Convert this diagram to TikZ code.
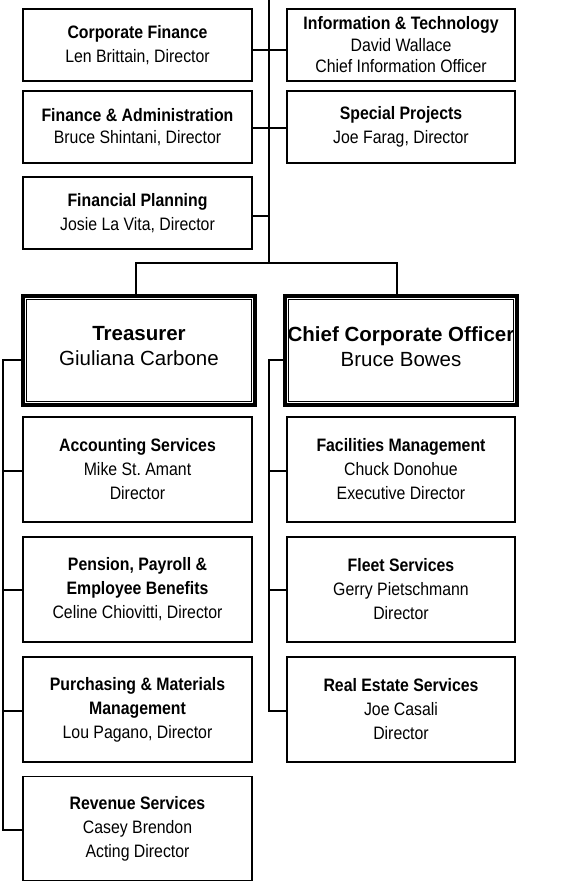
\documentclass[tikz,border=0pt]{standalone}
\usepackage{fontspec}
\setmainfont[FakeStretch=0.88]{Liberation Sans}
\newfontfamily\bigfont{Liberation Sans}
\usetikzlibrary{calc}
\frenchspacing
\tikzset{
  unitbox/.style={draw, line width=1.4pt, inner sep=0pt, align=center,
    font=\fontsize{18}{24}\selectfont},
  leftcol/.style={unitbox, minimum width=229pt},
  rightcol/.style={unitbox, minimum width=228pt},
  tight/.style={font=\fontsize{18}{21.5}\selectfont},
  headbox/.style={draw, line width=4pt, inner sep=0pt, minimum width=232pt, minimum height=109pt},
  headinner/.style={draw, line width=1.2pt},
  headtext/.style={align=center, inner sep=0pt, font=\bigfont\fontsize{20.5}{25}\selectfont},
  conn/.style={line width=1.3pt}
}
\begin{document}
\begin{tikzpicture}[x=1pt,y=-1pt]
\useasboundingbox (0,0) rectangle (571,882);
% top level boxes
\node[leftcol, minimum height=72pt] (CF) at (137.5,45) {\textbf{Corporate Finance}\\Len Brittain, Director};
\node[rightcol, minimum height=72pt, tight] (IT) at (401,45) {\textbf{Information \& Technology}\\David Wallace\\Chief Information Officer};
\node[leftcol, minimum height=72pt, tight] (FA) at (137.5,127) {\textbf{Finance \& Administration}\\Bruce Shintani, Director};
\node[rightcol, minimum height=72pt] (SP) at (401,127) {\textbf{Special Projects}\\Joe Farag, Director};
\node[leftcol, minimum height=72pt] (FP) at (137.5,213) {\textbf{Financial Planning}\\Josie La Vita, Director};
% head boxes
\node[headbox] (T) at (139,350.5) {};
\draw[headinner] ([shift={(5.5,5.5)}]T.north west) rectangle ([shift={(-5.5,-5.5)}]T.south east);
\node[headtext] (Tt) at (139,346.5) {\textbf{Treasurer}\\Giuliana Carbone};
\node[headbox] (C) at (401,350.5) {};
\draw[headinner] ([shift={(5.5,5.5)}]C.north west) rectangle ([shift={(-5.5,-5.5)}]C.south east);
\node[headtext] (Ct) at (401,346.5) {\textbf{Chief Corporate Officer}\\Bruce Bowes};
% left column
\node[leftcol, minimum height=105pt] (AS) at (137.5,469.5) {\textbf{Accounting Services}\\Mike St.\ Amant\\Director};
\node[leftcol, minimum height=105pt] (PP) at (137.5,589.5) {\textbf{Pension, Payroll \&}\\\textbf{Employee Benefits}\\Celine Chiovitti, Director};
\node[leftcol, minimum height=105pt] (PM) at (137.5,709.5) {\textbf{Purchasing \& Materials}\\\textbf{Management}\\Lou Pagano, Director};
\node[leftcol, minimum height=104pt] (RS) at (137.5,828.5) {\textbf{Revenue Services}\\Casey Brendon\\Acting Director};
% right column
\node[rightcol, minimum height=105pt] (FM) at (401,469.5) {\textbf{Facilities Management}\\Chuck Donohue\\Executive Director};
\node[rightcol, minimum height=105pt] (FS) at (401,589.5) {\textbf{Fleet Services}\\Gerry Pietschmann\\Director};
\node[rightcol, minimum height=105pt] (RE) at (401,709.5) {\textbf{Real Estate Services}\\Joe Casali\\Director};
% connectors, top
\coordinate (top) at (269,0);
\coordinate (split) at (269,263);
\coordinate (tl) at (136,263);
\coordinate (tr) at (397,263);
\draw[conn] (top) -- (split);
\coordinate (cfs) at ([yshift=-5pt]CF.east);
\coordinate (its) at ([yshift=-5pt]IT.west);
\draw[conn] (cfs) -- (its);
\coordinate (fas) at ([yshift=-1pt]FA.east);
\coordinate (sps) at ([yshift=-1pt]SP.west);
\draw[conn] (fas) -- (sps);
\coordinate (fps) at ([yshift=-3pt]FP.east);
\draw[conn] (fps) -- (fps -| top);
\draw[conn] (tl |- T.north) -- (tl) -- (tr) -- (tr |- C.north);
% left bus
\coordinate (lb1) at (3,360);
\coordinate (lb2) at (3,830);
\draw[conn] (T.west |- lb1) -- (lb1) -- (lb2) -- (lb2 -| RS.west);
\coordinate (ass) at ([yshift=-1.5pt]AS.west);
\draw[conn] (ass) -- (ass -| lb1);
\coordinate (pps) at ([yshift=-0.5pt]PP.west);
\draw[conn] (pps) -- (pps -| lb1);
\coordinate (pms) at ([yshift=-1.5pt]PM.west);
\draw[conn] (pms) -- (pms -| lb1);
% right bus
\coordinate (rb1) at (269,360);
\coordinate (rb2) at (269,711);
\draw[conn] (C.west |- rb1) -- (rb1) -- (rb2) -- (rb2 -| RE.west);
\coordinate (fms) at ([yshift=-1.5pt]FM.west);
\draw[conn] (fms) -- (fms -| rb1);
\coordinate (fss) at ([yshift=-0.5pt]FS.west);
\draw[conn] (fss) -- (fss -| rb1);
\end{tikzpicture}
\end{document}
